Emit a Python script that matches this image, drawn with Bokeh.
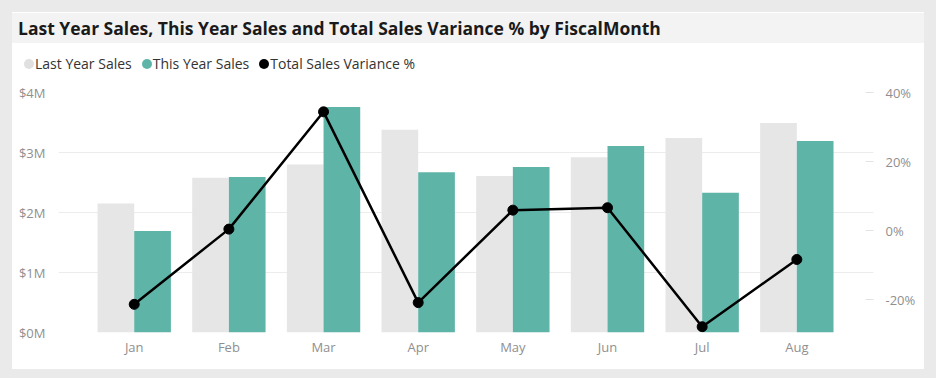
from bokeh.plotting import figure
from bokeh.layouts import column
from bokeh.models import LinearAxis, Range1d, FixedTicker, Div
from bokeh.embed import file_html
from bokeh.resources import INLINE

# ---- data ----
months = ["Jan", "Feb", "Mar", "Apr", "May", "Jun", "Jul", "Aug"]
last_year_sales = [2.15, 2.58, 2.80, 3.38, 2.61, 2.92, 3.24, 3.49]   # $M
this_year_sales = [1.69, 2.59, 3.76, 2.67, 2.76, 3.11, 2.33, 3.19]   # $M
variance_pct = [-21.4, 0.4, 34.4, -20.9, 5.9, 6.6, -27.9, -8.4]      # %
sales_ticks = [0, 1, 2, 3, 4]
sales_labels = ["$0M", "$1M", "$2M", "$3M", "$4M"]
pct_ticks = [-20, 0, 20, 40]
pct_labels = ["-20%", "0%", "20%", "40%"]
title_text = "Last Year Sales, This Year Sales and Total Sales Variance % by FiscalMonth"
series_names = ["Last Year Sales", "This Year Sales", "Total Sales Variance %"]

LY_COLOR = "#e6e6e6"
LY_LEGEND = "#e0e0e0"
TY_COLOR = "#5fb4a8"
LINE_COLOR = "#000000"
AXIS_TEXT = "#8f8f8f"
PAGE_GRAY = "#eaeaea"
TITLE_BAR = "#f3f3f3"
FONT = "Open Sans"

W = 936
HEAD_H = 80

# ---------------- header: title bar + legend ----------------
legend_colors = [LY_LEGEND, TY_COLOR, LINE_COLOR]
items_html = "".join(
    '<span style="display:inline-flex;align-items:center;margin-right:10px;">'
    '<span style="display:inline-block;width:10px;height:10px;border-radius:50%%;'
    'background:%s;margin-right:1px;"></span>%s</span>' % (c, n)
    for c, n in zip(legend_colors, series_names))
header_html = (
    '<div style="position:relative;width:%dpx;height:%dpx;background:%s;'
    'font-family:\'%s\';overflow:hidden;">' % (W, HEAD_H, PAGE_GRAY, FONT)
    + '<div style="position:absolute;left:12px;top:12px;width:912px;height:%dpx;'
      'background:#ffffff;"></div>' % (HEAD_H - 12)
    + '<div style="position:absolute;left:12px;top:13px;width:912px;height:30px;'
      'background:%s;"></div>' % TITLE_BAR
    + '<div style="position:absolute;left:18px;top:13px;height:30px;line-height:30px;'
      'font-size:17.5px;font-weight:bold;color:#1a1a1a;white-space:nowrap;">%s</div>'
      % title_text
    + '<div style="position:absolute;left:24px;top:54px;height:20px;line-height:20px;'
      'font-size:14px;color:#333333;white-space:nowrap;display:flex;">%s</div>'
      % items_html
    + '</div>')
header = Div(text=header_html, width=W, height=HEAD_H, margin=(0, 0, 0, 0))

# ---------------- main chart ----------------
xs = list(range(len(months)))
bar_w = 0.3875

p = figure(width=W, height=378 - HEAD_H,
           min_border_left=58, min_border_right=63,
           min_border_top=12, min_border_bottom=46,
           x_range=Range1d(-0.8, 7.81), y_range=Range1d(0, 4),
           output_backend="svg", toolbar_location=None, tools="")
p.outline_line_color = None
p.border_fill_alpha = 0
p.background_fill_color = "white"
p.styles = {"background": "linear-gradient(#ffffff, #ffffff) 12px 0px / 912px %dpx no-repeat, %s"
            % (369 - HEAD_H, PAGE_GRAY)}
p.margin = (0, 0, 0, 0)

p.extra_y_ranges = {"pct": Range1d(40 - 240 / 3.45, 40)}

p.vbar(x=[x - bar_w / 2 for x in xs], top=last_year_sales, width=bar_w,
       fill_color=LY_COLOR, line_color=None)
p.vbar(x=[x + bar_w / 2 for x in xs], top=this_year_sales, width=bar_w,
       fill_color=TY_COLOR, line_color=None)
p.line(xs, variance_pct, y_range_name="pct", line_color=LINE_COLOR, line_width=2.5)
p.scatter(xs, variance_pct, y_range_name="pct", size=10, fill_color=LINE_COLOR,
          line_color=LINE_COLOR)

xa = p.xaxis[0]
xa.ticker = FixedTicker(ticks=xs)
xa.major_label_overrides = {i: m for i, m in enumerate(months)}
ya = p.yaxis[0]
ya.ticker = FixedTicker(ticks=sales_ticks)
ya.major_label_overrides = {t: l for t, l in zip(sales_ticks, sales_labels)}
ra = LinearAxis(y_range_name="pct", ticker=FixedTicker(ticks=pct_ticks))
ra.major_label_overrides = {t: l for t, l in zip(pct_ticks, pct_labels)}
p.add_layout(ra, "right")

for ax in (xa, ya, ra):
    ax.axis_line_color = None
    ax.major_tick_line_color = None
    ax.minor_tick_line_color = None
    ax.major_tick_out = 0
    ax.major_tick_in = 0
    ax.minor_tick_out = 0
    ax.minor_tick_in = 0
    ax.major_label_text_color = AXIS_TEXT
    ax.major_label_text_font = FONT
    ax.major_label_text_font_size = "13px"
xa.major_label_standoff = 5
ya.major_label_standoff = 13
ra.major_tick_line_color = "#e3e3e3"
ra.major_tick_in = 8
ra.major_label_standoff = 12

p.xgrid.grid_line_color = None
p.ygrid.grid_line_color = "#ececec"
p.ygrid.grid_line_width = 1

layout = column(header, p, spacing=0)
open("out.html", "w").write(file_html(layout, INLINE))
